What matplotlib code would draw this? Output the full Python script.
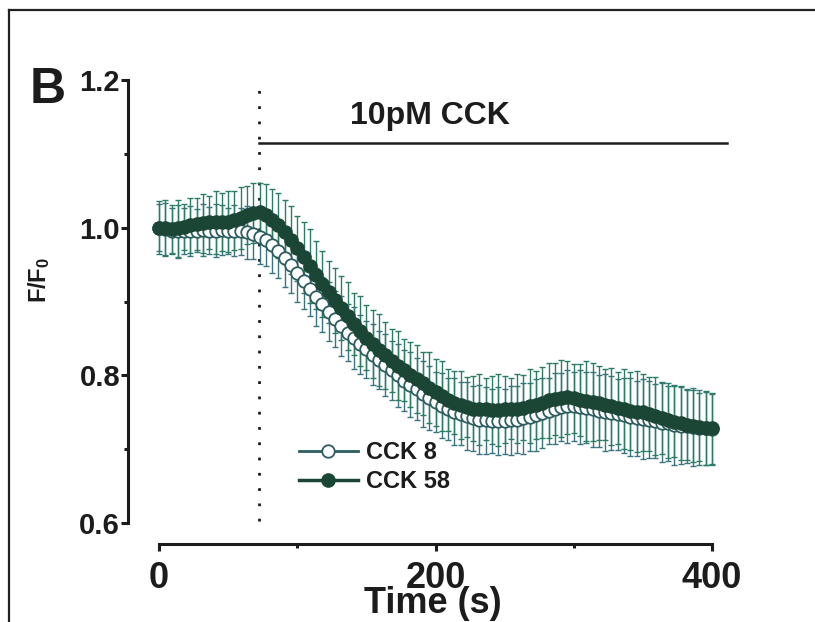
import numpy as np
import matplotlib
matplotlib.use('Agg')
import matplotlib.pyplot as plt
from matplotlib.lines import Line2D

plt.rcParams['font.family'] = ['Liberation Sans', 'DejaVu Sans']
plt.rcParams['font.weight'] = 'bold'
plt.rcParams['mathtext.fontset'] = 'custom'
plt.rcParams['mathtext.rm'] = 'Liberation Sans:bold'
plt.rcParams['mathtext.it'] = 'Liberation Sans:bold'
plt.rcParams['mathtext.bf'] = 'Liberation Sans:bold'

# sampling times (s), about every 4.5 s
time_s = np.linspace(0, 400, 89)

# mean F/F0
cck58 = [1.000, 0.999, 0.998, 0.999, 1.001, 1.003, 1.005, 1.006, 1.007, 1.007,
         1.008, 1.008, 1.010, 1.013, 1.017, 1.020, 1.021, 1.017, 1.011, 1.003,
         0.994, 0.983, 0.972, 0.960, 0.948, 0.936, 0.924, 0.913, 0.902, 0.891,
         0.880, 0.870, 0.860, 0.851, 0.842, 0.834, 0.827, 0.820, 0.813, 0.807,
         0.801, 0.795, 0.789, 0.783, 0.777, 0.772, 0.767, 0.763, 0.760, 0.757,
         0.755, 0.754, 0.754, 0.753, 0.753, 0.754, 0.755, 0.755, 0.756, 0.758,
         0.760, 0.763, 0.766, 0.768, 0.769, 0.770, 0.769, 0.767, 0.765, 0.764,
         0.762, 0.760, 0.758, 0.756, 0.754, 0.752, 0.751, 0.750, 0.748, 0.745,
         0.742, 0.739, 0.737, 0.735, 0.733, 0.731, 0.730, 0.729, 0.728]
cck8 = [1.000, 0.998, 0.996, 0.995, 0.995, 0.996, 0.996, 0.997, 0.996, 0.996,
        0.997, 0.996, 0.996, 0.995, 0.994, 0.992, 0.988, 0.983, 0.976, 0.968,
        0.959, 0.949, 0.939, 0.928, 0.917, 0.906, 0.896, 0.886, 0.876, 0.867,
        0.858, 0.850, 0.842, 0.835, 0.828, 0.821, 0.814, 0.807, 0.800, 0.793,
        0.787, 0.781, 0.775, 0.769, 0.764, 0.759, 0.755, 0.751, 0.748, 0.745,
        0.742, 0.740, 0.739, 0.738, 0.738, 0.738, 0.739, 0.740, 0.742, 0.744,
        0.746, 0.749, 0.752, 0.755, 0.757, 0.758, 0.758, 0.757, 0.756, 0.754,
        0.752, 0.750, 0.749, 0.747, 0.746, 0.744, 0.742, 0.741, 0.740, 0.738,
        0.736, 0.735, 0.733, 0.732, 0.731, 0.730, 0.729, 0.728, 0.727]

# SEM
err58 = [0.036, 0.038, 0.033, 0.039, 0.031, 0.037, 0.035, 0.040, 0.036, 0.042,
         0.039, 0.041, 0.040, 0.042, 0.039, 0.041, 0.040, 0.042, 0.041, 0.044,
         0.043, 0.046, 0.044, 0.048, 0.050, 0.046, 0.045, 0.042, 0.044, 0.043,
         0.046, 0.042, 0.047, 0.044, 0.046, 0.049, 0.045, 0.043, 0.047, 0.042,
         0.044, 0.046, 0.043, 0.048, 0.045, 0.047, 0.042, 0.043, 0.046, 0.041,
         0.044, 0.048, 0.042, 0.046, 0.049, 0.045, 0.041, 0.047, 0.044, 0.050,
         0.046, 0.048, 0.051, 0.049, 0.052, 0.050, 0.047, 0.049, 0.054, 0.053,
         0.050, 0.048, 0.052, 0.049, 0.054, 0.053, 0.055, 0.052, 0.050, 0.053,
         0.049, 0.051, 0.048, 0.050, 0.047, 0.049, 0.046, 0.050, 0.048]
err8 = [0.032, 0.035, 0.030, 0.036, 0.031, 0.034, 0.029, 0.035, 0.032, 0.036,
        0.034, 0.031, 0.035, 0.032, 0.036, 0.034, 0.037, 0.035, 0.038, 0.036,
        0.039, 0.037, 0.040, 0.038, 0.036, 0.039, 0.037, 0.040, 0.038, 0.041,
        0.039, 0.042, 0.040, 0.038, 0.041, 0.039, 0.042, 0.040, 0.043, 0.041,
        0.044, 0.042, 0.045, 0.043, 0.041, 0.044, 0.042, 0.045, 0.043, 0.046,
        0.044, 0.047, 0.045, 0.043, 0.046, 0.044, 0.047, 0.045, 0.048, 0.046,
        0.049, 0.047, 0.045, 0.048, 0.046, 0.049, 0.047, 0.050, 0.048, 0.051,
        0.049, 0.052, 0.050, 0.048, 0.051, 0.053, 0.051, 0.054, 0.052, 0.050,
        0.053, 0.051, 0.054, 0.052, 0.050, 0.053, 0.051, 0.049, 0.048]

cck_start = 72      # s, application of CCK
cck_end = 411
labels = ['CCK 8', 'CCK 58']

ink = '#1c1c1c'
dark_green = '#1b4534'
open_edge = '#2d5d60'

fig = plt.figure(figsize=(8.15, 6.22), dpi=100)
ax = fig.add_axes([159 / 815, 1 - 523 / 622, 553 / 815, 443 / 622])
ax.set_xlim(0, 400)
ax.set_ylim(0.6, 1.2)

# error bars first, then the curves
ax.errorbar(time_s, cck8, yerr=err8, fmt='none', ecolor='#3a7480',
            elinewidth=1.0, capsize=2.5, capthick=1.0, zorder=2, clip_on=False)
ax.errorbar(time_s, cck58, yerr=err58, fmt='none', ecolor='#2a7d62',
            elinewidth=1.0, capsize=2.5, capthick=1.0, zorder=3, clip_on=False)
ax.plot(time_s, cck8, '-o', color=open_edge, mfc='white', mec=open_edge,
        ms=9, mew=1.3, lw=2, label=labels[0], zorder=4, clip_on=False)
ax.plot(time_s, cck58, '-o', color=dark_green, mfc=dark_green, mec=dark_green,
        ms=9.5, lw=2.5, label=labels[1], zorder=5, clip_on=False)

# CCK application marker
ax.axvline(cck_start, ymin=0.005, ymax=0.995, color=ink, lw=2.0,
           dashes=(1, 4.5), zorder=1)
ax.plot([cck_start, cck_end], [1.114, 1.114], color=ink, lw=1.8, clip_on=False)
ax.text(196, 1.1404, '10pM CCK', ha='center', va='baseline', fontsize=23,
        fontweight='bold', color=ink)

# axes styling
for s in ['top', 'right']:
    ax.spines[s].set_visible(False)
ax.spines['left'].set_position(('outward', 22))
ax.spines['bottom'].set_position(('outward', 15))
for s in ['left', 'bottom']:
    ax.spines[s].set_linewidth(2.2)
    ax.spines[s].set_color(ink)

ax.set_xticks([0, 200, 400])
ax.set_xticks([100, 300], minor=True)
ax.set_yticks([0.6, 0.8, 1.0, 1.2])
ax.set_yticklabels(['0.6', '0.8', '1.0', '1.2'])
ax.set_yticks([0.7, 0.9, 1.1], minor=True)
ax.tick_params(axis='both', which='major', length=5, width=2.2, color=ink, labelcolor=ink)
ax.tick_params(axis='both', which='minor', length=3, width=2.2, color=ink)
ax.tick_params(axis='y', which='major', labelsize=21, pad=1)
ax.tick_params(axis='x', which='major', labelsize=26, pad=7)

ax.set_xlabel('Time (s)', fontsize=26, fontweight='bold', color=ink)
ax.xaxis.set_label_coords(0.496, -0.143)

fig.text(39 / 815, 1 - 280 / 622, 'F/F$_0$', rotation=90, ha='center', va='center',
         fontsize=17, fontweight='bold', color=ink)
fig.text(30 / 815, 1 - 103 / 622, 'B', ha='left', va='baseline', fontsize=36,
         fontweight='bold', color=ink)

ax.legend(loc='upper left', bbox_to_anchor=(0.253, 0.185), frameon=False,
          fontsize=17, handlelength=2.5, handletextpad=0.35, labelspacing=0.25,
          borderpad=0, borderaxespad=0, labelcolor=ink)

# panel frame
fig.add_artist(Line2D([9 / 815, 9 / 815], [0, 1 - 10 / 622], transform=fig.transFigure,
                      color='#222222', lw=1.6))
fig.add_artist(Line2D([9 / 815, 1], [1 - 10 / 622, 1 - 10 / 622], transform=fig.transFigure,
                      color='#222222', lw=1.6))

fig.savefig('out.png', dpi=100)
